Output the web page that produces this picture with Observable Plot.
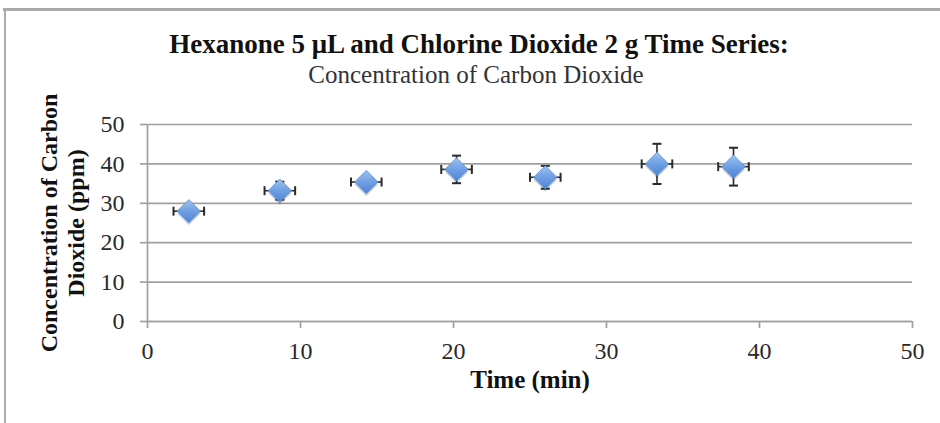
<!DOCTYPE html>
<html>
<head>
<meta charset="utf-8">
<script src="https://cdn.jsdelivr.net/npm/d3@7"></script>
<script src="https://cdn.jsdelivr.net/npm/@observablehq/plot@0.6"></script>
<style>
  html, body { margin: 0; padding: 0; background: #fff; }
  #wrap { position: relative; width: 940px; height: 423px; overflow: hidden; }
  #wrap .bt { position: absolute; left: 3px; top: 8px; width: 937px; height: 3px; background: #aaa; }
  #wrap .bl { position: absolute; left: 4px; top: 8px; width: 2px; height: 415px; background: #aaa; }
</style>
</head>
<body>
<div id="wrap"><div class="bt"></div><div class="bl"></div></div>
<script>
const titleText = "Hexanone 5 μL and Chlorine Dioxide 2 g Time Series:";
const subtitleText = "Concentration of Carbon Dioxide";
const xLabel = "Time (min)";
const yLabel = "Concentration of Carbon\nDioxide (ppm)";

const time = [2.7, 8.65, 14.3, 20.2, 26.0, 33.3, 38.3];
const conc = [28.0, 33.2, 35.4, 38.6, 36.6, 40.0, 39.3];
const timeErr = [1, 1, 1, 1, 1, 1, 1];
const concErr = [0.8, 2.3, 1.5, 3.5, 2.9, 5.1, 4.8];

const xTicks = [0, 10, 20, 30, 40, 50];
const yTicks = [0, 10, 20, 30, 40, 50];

const data = time.map((t, i) => ({t, c: conc[i], te: timeErr[i], ce: concErr[i]}));

const vCap = {draw(ctx) { ctx.moveTo(0, -4.5); ctx.lineTo(0, 4.5); }};
const hCap = {draw(ctx) { ctx.moveTo(-4.5, 0); ctx.lineTo(4.5, 0); }};

const gridColor = "#a0a0a0";
const errColor = "#2a2a2a";

const chart = Plot.plot({
  width: 940,
  height: 423,
  marginLeft: 147,
  marginRight: 28,
  marginTop: 124,
  marginBottom: 102,
  style: {background: "transparent", fontFamily: "'Liberation Serif', serif", fontSize: "24px", color: "#222"},
  x: {domain: [0, 50]},
  y: {domain: [0, 50]},
  marks: [
    Plot.gridY(yTicks, {stroke: gridColor, strokeOpacity: 1, strokeWidth: 1.7}),
    Plot.ruleX([0], {stroke: gridColor, strokeWidth: 1.7}),
    Plot.ruleY([0], {stroke: gridColor, strokeWidth: 1.7}),
    Plot.axisY(yTicks, {tickSize: 7, tickPadding: 16, stroke: gridColor, strokeWidth: 1.7, label: null, fontSize: 24, fill: "#2a2a2a"}),
    Plot.axisX(xTicks, {tickSize: 7, tickPadding: 13, stroke: gridColor, strokeWidth: 1.7, label: null, fontSize: 24, fill: "#2a2a2a"}),
    // marker shadows
    Plot.dot(data, {x: "t", y: "c", dy: 2.5, symbol: "diamond2", r: 10.5, fill: "#000", fillOpacity: 0.18}),
    // error bars
    Plot.link(data, {x1: d => d.t - d.te, x2: d => d.t + d.te, y1: "c", y2: "c", stroke: errColor, strokeWidth: 1.6}),
    Plot.link(data, {x1: "t", x2: "t", y1: d => d.c - d.ce, y2: d => d.c + d.ce, stroke: errColor, strokeWidth: 1.6}),
    Plot.dot(data, {x: d => d.t - d.te, y: "c", symbol: vCap, stroke: errColor, strokeWidth: 2, r: 5}),
    Plot.dot(data, {x: d => d.t + d.te, y: "c", symbol: vCap, stroke: errColor, strokeWidth: 2, r: 5}),
    Plot.dot(data, {x: "t", y: d => d.c - d.ce, symbol: hCap, stroke: errColor, strokeWidth: 2, r: 5}),
    Plot.dot(data, {x: "t", y: d => d.c + d.ce, symbol: hCap, stroke: errColor, strokeWidth: 2, r: 5}),
    // markers
    Plot.dot(data, {x: "t", y: "c", symbol: "diamond2", r: 10.5, fill: "url(#diaGrad)", stroke: "#5d8fd6", strokeWidth: 0.8}),
    // titles
    Plot.text([titleText], {frameAnchor: "top", dx: -51, dy: -91, lineAnchor: "top", textAnchor: "middle", fontSize: 27, fontWeight: "bold", fill: "#111", letterSpacing: "0.6px"}),
    Plot.text([subtitleText], {frameAnchor: "top", dx: -54, dy: -59, lineAnchor: "top", textAnchor: "middle", fontSize: 25, fill: "#333", letterSpacing: "1.5px"}),
    Plot.text([xLabel], {frameAnchor: "bottom", dx: 0, dy: 49, lineAnchor: "top", textAnchor: "middle", fontSize: 25, fontWeight: "bold", fill: "#111"}),
    Plot.text([yLabel], {frameAnchor: "left", dx: -86, rotate: -90, lineAnchor: "middle", textAnchor: "middle", lineHeight: 1.13, fontSize: 24, fontWeight: "bold", fill: "#111"})
  ]
});

// gradient for diamonds
const ns = "http://www.w3.org/2000/svg";
const defs = document.createElementNS(ns, "defs");
defs.innerHTML = '<linearGradient id="diaGrad" x1="0" y1="0" x2="0" y2="1"><stop offset="0" stop-color="#9cc3f2"/><stop offset="0.5" stop-color="#6f9fe3"/><stop offset="1" stop-color="#4f84d3"/></linearGradient>';
chart.insertBefore(defs, chart.firstChild);
chart.style.position = "absolute";
chart.style.left = "0";
chart.style.top = "0";
document.getElementById("wrap").appendChild(chart);
</script>
</body>
</html>
